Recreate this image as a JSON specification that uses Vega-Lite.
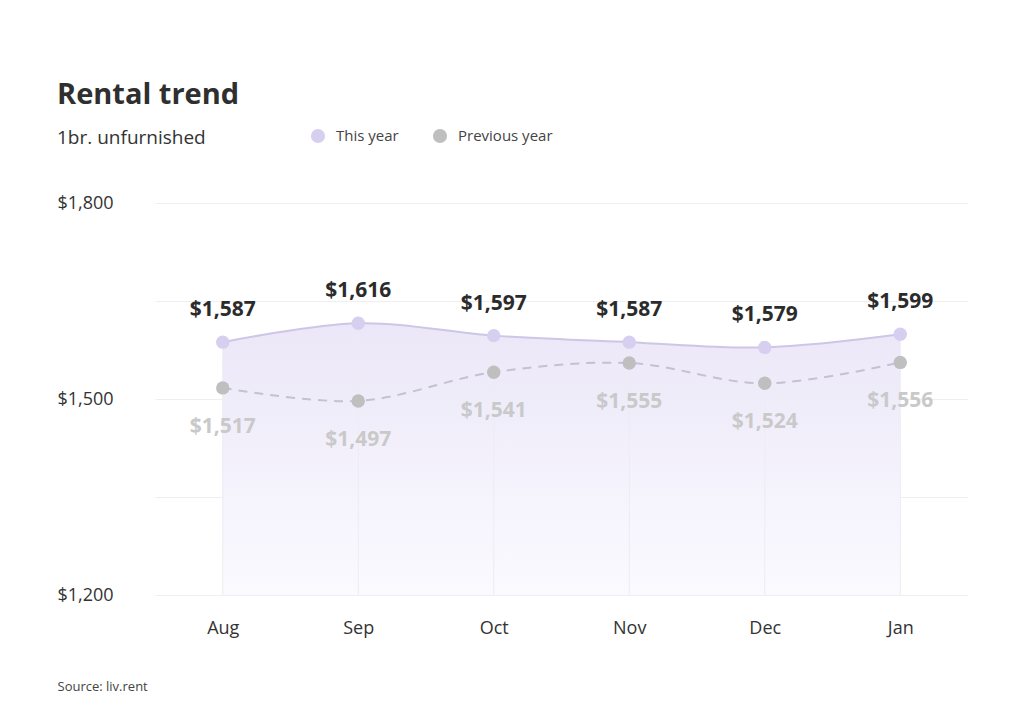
{
  "$schema": "https://vega.github.io/schema/vega-lite/v6.json",
  "width": 813,
  "height": 392,
  "autosize": {"type": "none"},
  "padding": {"left": 155, "top": 203, "right": 56, "bottom": 122},
  "background": "white",
  "config": {
    "font": "Open Sans",
    "view": {"stroke": null}
  },
  "title": {
    "text": "Rental trend",
    "subtitle": "1br. unfurnished",
    "anchor": "start",
    "frame": "group",
    "dx": -98,
    "dy": 78,
    "offset": 58,
    "fontSize": 29,
    "fontWeight": "bold",
    "color": "#2f2f2f",
    "subtitleFontSize": 19,
    "subtitleColor": "#333333",
    "subtitlePadding": 19
  },
  "data": {
    "values": [
      {"month": "Aug", "series": "This year", "value": 1587},
      {"month": "Sep", "series": "This year", "value": 1616},
      {"month": "Oct", "series": "This year", "value": 1597},
      {"month": "Nov", "series": "This year", "value": 1587},
      {"month": "Dec", "series": "This year", "value": 1579},
      {"month": "Jan", "series": "This year", "value": 1599},
      {"month": "Aug", "series": "Previous year", "value": 1517},
      {"month": "Sep", "series": "Previous year", "value": 1497},
      {"month": "Oct", "series": "Previous year", "value": 1541},
      {"month": "Nov", "series": "Previous year", "value": 1555},
      {"month": "Dec", "series": "Previous year", "value": 1524},
      {"month": "Jan", "series": "Previous year", "value": 1556}
    ]
  },
  "encoding": {
    "x": {
      "field": "month",
      "type": "ordinal",
      "sort": ["Aug", "Sep", "Oct", "Nov", "Dec", "Jan"],
      "scale": {"type": "point", "padding": 0.5},
      "axis": {
        "title": "Source: liv.rent",
        "titleFontSize": 13,
        "titleFontWeight": "normal",
        "titleColor": "#444444",
        "titleAnchor": "start",
        "titleAlign": "left",
        "titleBaseline": "middle",
        "titleX": -98,
        "titleY": 91,
        "labelAngle": 0,
        "labelFontSize": 18,
        "labelColor": "#333333",
        "labelPadding": 24,
        "domain": false,
        "ticks": false,
        "grid": false
      }
    }
  },
  "layer": [
    {
      "transform": [{"filter": "datum.series == 'This year'"}],
      "mark": {
        "type": "area",
        "interpolate": "cardinal",
        "color": {
          "gradient": "linear",
          "x1": 0, "y1": 0, "x2": 0, "y2": 1,
          "stops": [
            {"offset": 0, "color": "#ebe7f8"},
            {"offset": 1, "color": "#fbfaff"}
          ]
        }
      },
      "encoding": {
        "y": {
          "field": "value",
          "type": "quantitative",
          "scale": {"domain": [1200, 1800], "nice": false, "zero": false},
          "axis": {
            "values": [1200, 1350, 1500, 1650, 1800],
            "format": "$,.0f",
            "labelExpr": "datum.value % 300 == 0 ? datum.label : ''",
            "title": null,
            "grid": true,
            "gridColor": "#efeff1",
            "domain": false,
            "ticks": false,
            "labelAlign": "left",
            "labelPadding": 98,
            "labelFontSize": 18,
            "labelColor": "#333333"
          }
        },
        "y2": {"datum": 1200}
      }
    },
    {
      "transform": [{"filter": "datum.series == 'This year'"}],
      "mark": {"type": "rule", "color": "#ececf1", "strokeWidth": 1},
      "encoding": {
        "y": {"field": "value", "type": "quantitative"},
        "y2": {"datum": 1200}
      }
    },
    {
      "transform": [{"filter": "datum.series == 'Previous year'"}],
      "mark": {
        "type": "line",
        "interpolate": "cardinal",
        "color": "#c6c0d2",
        "strokeWidth": 2,
        "strokeDash": [9, 7]
      },
      "encoding": {"y": {"field": "value", "type": "quantitative"}}
    },
    {
      "transform": [{"filter": "datum.series == 'This year'"}],
      "mark": {
        "type": "line",
        "interpolate": "cardinal",
        "color": "#cdc6e6",
        "strokeWidth": 2
      },
      "encoding": {"y": {"field": "value", "type": "quantitative"}}
    },
    {
      "mark": {"type": "circle", "size": 180, "opacity": 1},
      "encoding": {
        "y": {"field": "value", "type": "quantitative"},
        "color": {
          "field": "series",
          "type": "nominal",
          "scale": {
            "domain": ["This year", "Previous year"],
            "range": ["#d6cff0", "#bfbfbf"]
          },
          "legend": {
            "title": null,
            "orient": "none",
            "direction": "horizontal",
            "legendX": 155,
            "legendY": -75,
            "symbolType": "circle",
            "symbolSize": 200,
            "symbolOpacity": 1,
            "labelFontSize": 15,
            "labelColor": "#444444",
            "labelOffset": 10,
            "columnPadding": 33
          }
        }
      }
    },
    {
      "transform": [{"filter": "datum.series == 'This year'"}],
      "mark": {
        "type": "text",
        "dy": -32,
        "fontSize": 21,
        "fontWeight": "bold",
        "color": "#2b2b2b"
      },
      "encoding": {
        "y": {"field": "value", "type": "quantitative"},
        "text": {"field": "value", "type": "quantitative", "format": "$,.0f"}
      }
    },
    {
      "transform": [{"filter": "datum.series == 'Previous year'"}],
      "mark": {
        "type": "text",
        "dy": 39,
        "fontSize": 21,
        "fontWeight": "bold",
        "color": "#c9c9c9"
      },
      "encoding": {
        "y": {"field": "value", "type": "quantitative"},
        "text": {"field": "value", "type": "quantitative", "format": "$,.0f"}
      }
    }
  ]
}
